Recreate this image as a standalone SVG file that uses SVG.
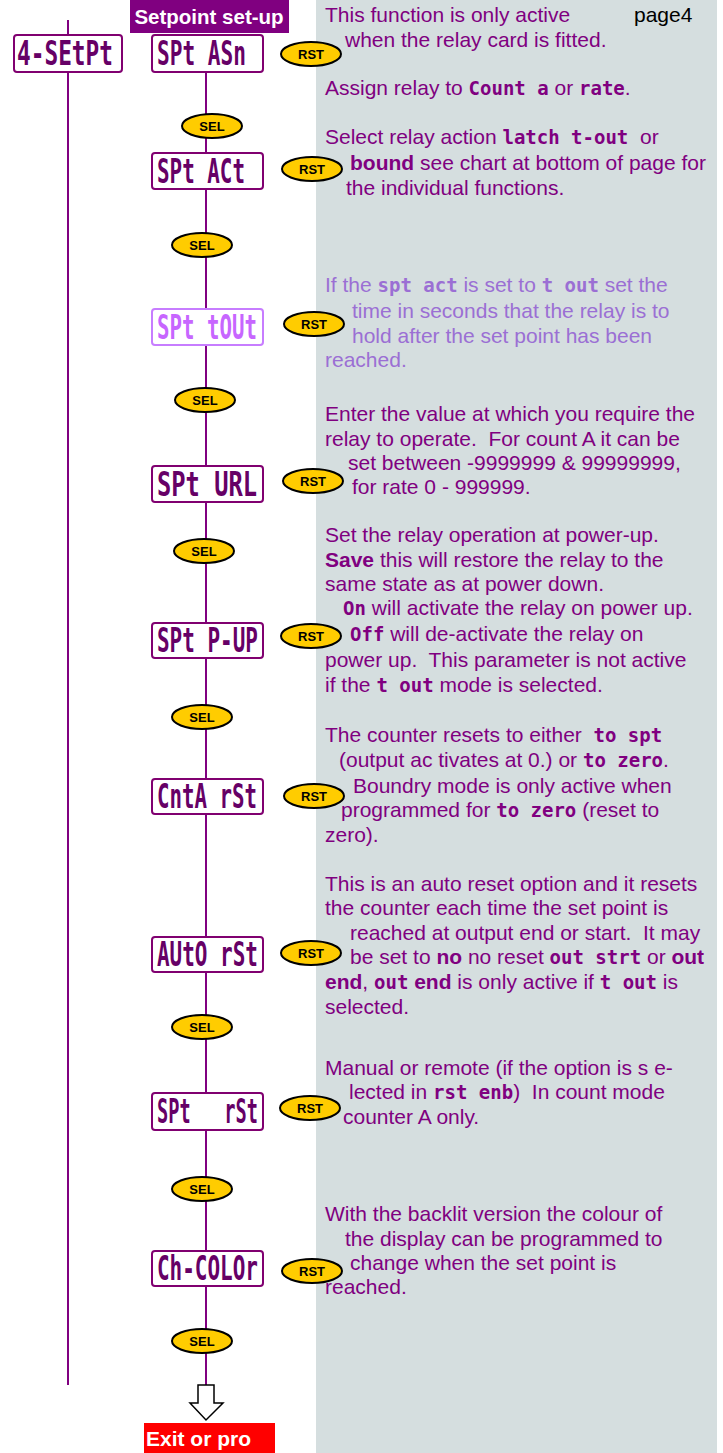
<svg xmlns="http://www.w3.org/2000/svg" width="723" height="1453" viewBox="0 0 723 1453">
<style>
.t{font-family:"Liberation Sans",Arial,sans-serif;font-size:21px;fill:#800080;white-space:pre}
.lt{fill:#9b6fd4}
.m{font-family:"DejaVu Sans Mono","Liberation Mono",monospace;font-weight:bold;font-size:19px}
.b{font-weight:bold}
.box{fill:#fff;stroke:#800070;stroke-width:2}
.boxl{fill:#fff;stroke:#c77dff;stroke-width:2}
.lcd{font-family:"DejaVu Sans Mono","Liberation Mono",monospace;font-weight:bold;font-size:34px;fill:#660066;white-space:pre}
.lcdl{fill:#c766ff}
.btn{fill:#ffcc00;stroke:#000;stroke-width:2}
.bt{font-family:"Liberation Sans",Arial,sans-serif;font-weight:bold;font-size:13px;fill:#000;text-anchor:middle}
.ln{stroke:#800080;stroke-width:2;fill:none}
</style>
<rect x="0" y="0" width="723" height="1453" fill="#fff"/>
<rect x="316" y="0" width="401" height="1453" fill="#d5dedf"/>

<g id="connectors">
<line class="ln" x1="68" y1="20" x2="68" y2="35"/>
<line class="ln" x1="68" y1="72" x2="68" y2="1385"/>
<line class="ln" x1="206" y1="72" x2="206" y2="1386"/>
</g>

<g id="header">
<rect x="130" y="0" width="159" height="33" fill="#800080"/>
<text x="209" y="24" text-anchor="middle" font-family="Liberation Sans, Arial, sans-serif" font-weight="bold" font-size="20.5" fill="#fff">Setpoint set-up</text>
</g>

<g id="n-4setpt">
<rect class="box" x="14" y="35" width="108" height="37" rx="3"/>
<text class="lcd" x="17" y="65" textLength="96" lengthAdjust="spacingAndGlyphs">4-SEtPt</text>
</g>

<g id="n-sptasn">
<rect class="box" x="152" y="35" width="111" height="37" rx="3"/>
<text class="lcd" x="157" y="65" textLength="89" lengthAdjust="spacingAndGlyphs">SPt ASn</text>
</g>
<g id="sel1"><ellipse class="btn" cx="212" cy="126" rx="30" ry="12"/><text class="bt" x="212" y="131">SEL</text></g>

<g id="n-sptact">
<rect class="box" x="152" y="153" width="111" height="36" rx="3"/>
<text class="lcd" x="157" y="183" textLength="88" lengthAdjust="spacingAndGlyphs">SPt ACt</text>
</g>
<g id="sel2"><ellipse class="btn" cx="202" cy="245" rx="30" ry="12"/><text class="bt" x="202" y="250">SEL</text></g>

<g id="n-spttout">
<rect class="boxl" x="152" y="309" width="111" height="36" rx="3"/>
<text class="lcd lcdl" x="157" y="339" textLength="100" lengthAdjust="spacingAndGlyphs">SPt tOUt</text>
</g>
<g id="sel3"><ellipse class="btn" cx="205" cy="400" rx="30" ry="12"/><text class="bt" x="205" y="405">SEL</text></g>

<g id="n-spturl">
<rect class="box" x="152" y="466" width="111" height="36" rx="3"/>
<text class="lcd" x="157" y="496" textLength="100" lengthAdjust="spacingAndGlyphs">SPt URL</text>
</g>
<g id="sel4"><ellipse class="btn" cx="204" cy="551" rx="30" ry="12"/><text class="bt" x="204" y="556">SEL</text></g>

<g id="n-sptpup">
<rect class="box" x="152" y="623" width="111" height="35" rx="3"/>
<text class="lcd" x="157" y="652" textLength="101" lengthAdjust="spacingAndGlyphs">SPt P-UP</text>
</g>
<g id="sel5"><ellipse class="btn" cx="202" cy="717" rx="30" ry="12"/><text class="bt" x="202" y="722">SEL</text></g>

<g id="n-cntarst">
<rect class="box" x="152" y="779" width="111" height="35" rx="3"/>
<text class="lcd" x="157" y="808" textLength="100" lengthAdjust="spacingAndGlyphs">CntA rSt</text>
</g>

<g id="n-autorst">
<rect class="box" x="152" y="937" width="111" height="35" rx="3"/>
<text class="lcd" x="157" y="966" textLength="101" lengthAdjust="spacingAndGlyphs">AUtO rSt</text>
</g>
<g id="sel6"><ellipse class="btn" cx="202" cy="1027" rx="30" ry="12"/><text class="bt" x="202" y="1032">SEL</text></g>

<g id="n-sptrst">
<rect class="box" x="152" y="1093" width="111" height="37" rx="3"/>
<text class="lcd" x="157" y="1123" textLength="101" lengthAdjust="spacingAndGlyphs">SPt   rSt</text>
</g>
<g id="sel7"><ellipse class="btn" cx="202" cy="1189" rx="30" ry="12"/><text class="bt" x="202" y="1194">SEL</text></g>

<g id="n-chcolor">
<rect class="box" x="152" y="1251" width="111" height="35" rx="3"/>
<text class="lcd" x="157" y="1280" textLength="101" lengthAdjust="spacingAndGlyphs">Ch-COLOr</text>
</g>
<g id="sel8"><ellipse class="btn" cx="202" cy="1341" rx="30" ry="12"/><text class="bt" x="202" y="1346">SEL</text></g>

<g id="exit-arrow">
<polygon points="198,1385 214,1385 214,1403 223,1403 206,1420 190,1403 198,1403" fill="#fff" stroke="#000" stroke-width="1.5"/>
</g>
<g id="exit">
<rect x="144" y="1423" width="131" height="30" fill="#ff0000"/>
<text x="146" y="1446" font-family="Liberation Sans, Arial, sans-serif" font-weight="bold" font-size="21" fill="#fff">Exit or pro</text>
</g>

<g id="rst-buttons">
<g id="rst1"><ellipse class="btn" cx="311" cy="54" rx="30" ry="12"/><text class="bt" x="311" y="59">RST</text></g>
<g id="rst2"><ellipse class="btn" cx="312" cy="169" rx="30" ry="12"/><text class="bt" x="312" y="174">RST</text></g>
<g id="rst3"><ellipse class="btn" cx="314" cy="324" rx="30" ry="12"/><text class="bt" x="314" y="329">RST</text></g>
<g id="rst4"><ellipse class="btn" cx="313" cy="481" rx="30" ry="12"/><text class="bt" x="313" y="486">RST</text></g>
<g id="rst5"><ellipse class="btn" cx="311" cy="636" rx="30" ry="12"/><text class="bt" x="311" y="641">RST</text></g>
<g id="rst6"><ellipse class="btn" cx="314" cy="796" rx="30" ry="12"/><text class="bt" x="314" y="801">RST</text></g>
<g id="rst7"><ellipse class="btn" cx="311" cy="953" rx="30" ry="12"/><text class="bt" x="311" y="958">RST</text></g>
<g id="rst8"><ellipse class="btn" cx="310" cy="1108" rx="30" ry="12"/><text class="bt" x="310" y="1113">RST</text></g>
<g id="rst9"><ellipse class="btn" cx="312" cy="1271" rx="30" ry="12"/><text class="bt" x="312" y="1276">RST</text></g>
</g>

<g id="descriptions">
<text class="t" x="325" y="22">This function is only active</text>
<text class="t" x="634" y="22" style="fill:#000">page4</text>
<text class="t" x="345" y="47">when the relay card is fitted.</text>

<text class="t" x="325" y="95">Assign relay to <tspan class="m">Count a</tspan> or <tspan class="m">rate</tspan>.</text>

<text class="t" x="325" y="144">Select relay action <tspan class="m">latch t-out</tspan>  or</text>
<text class="t" x="350" y="170"><tspan class="b">bound</tspan> see chart at bottom of page for</text>
<text class="t" x="346" y="195">the individual functions.</text>

<text class="t lt" x="325" y="292">If the <tspan class="m">spt act</tspan> is set to <tspan class="m">t out</tspan> set the</text>
<text class="t lt" x="352" y="318">time in seconds that the relay is to</text>
<text class="t lt" x="352" y="343">hold after the set point has been</text>
<text class="t lt" x="325" y="367">reached.</text>

<text class="t" x="325" y="421">Enter the value at which you require the</text>
<text class="t" x="325" y="446">relay to operate.  For count A it can be</text>
<text class="t" x="348" y="470">set between -9999999 &amp; 99999999,</text>
<text class="t" x="352" y="494">for rate 0 - 999999.</text>

<text class="t" x="325" y="542">Set the relay operation at power-up.</text>
<text class="t" x="325" y="567"><tspan class="b">Save</tspan> this will restore the relay to the</text>
<text class="t" x="325" y="591">same state as at power down.</text>
<text class="t" x="343" y="615"><tspan class="m">On</tspan> will activate the relay on power up.</text>
<text class="t" x="350" y="641"><tspan class="m">Off</tspan> will de-activate the relay on</text>
<text class="t" x="325" y="667">power up.  This parameter is not active</text>
<text class="t" x="325" y="692">if the <tspan class="m">t out</tspan> mode is selected.</text>

<text class="t" x="325" y="742">The counter resets to either  <tspan class="m">to spt</tspan></text>
<text class="t" x="339" y="767">(output ac tivates at 0.) or <tspan class="m">to zero</tspan>.</text>
<text class="t" x="353" y="793">Boundry mode is only active when</text>
<text class="t" x="341" y="817">programmed for <tspan class="m">to zero</tspan> (reset to</text>
<text class="t" x="325" y="842">zero).</text>

<text class="t" x="325" y="891">This is an auto reset option and it resets</text>
<text class="t" x="325" y="915">the counter each time the set point is</text>
<text class="t" x="350" y="940">reached at output end or start.  It may</text>
<text class="t" x="350" y="964">be set to <tspan class="b">no</tspan> no reset <tspan class="m">out strt</tspan> or <tspan class="b">out</tspan></text>
<text class="t" x="325" y="989"><tspan class="b">end</tspan>, <tspan class="m">out</tspan> <tspan class="b">end</tspan> is only active if <tspan class="m">t out</tspan> is</text>
<text class="t" x="325" y="1014">selected.</text>

<text class="t" x="325" y="1075">Manual or remote (if the option is s e-</text>
<text class="t" x="349" y="1099">lected in <tspan class="m">rst enb</tspan>)  In count mode</text>
<text class="t" x="343" y="1124">counter A only.</text>

<text class="t" x="325" y="1221">With the backlit version the colour of</text>
<text class="t" x="345" y="1246">the display can be programmed to</text>
<text class="t" x="350" y="1270">change when the set point is</text>
<text class="t" x="325" y="1294">reached.</text>
</g>
</svg>
